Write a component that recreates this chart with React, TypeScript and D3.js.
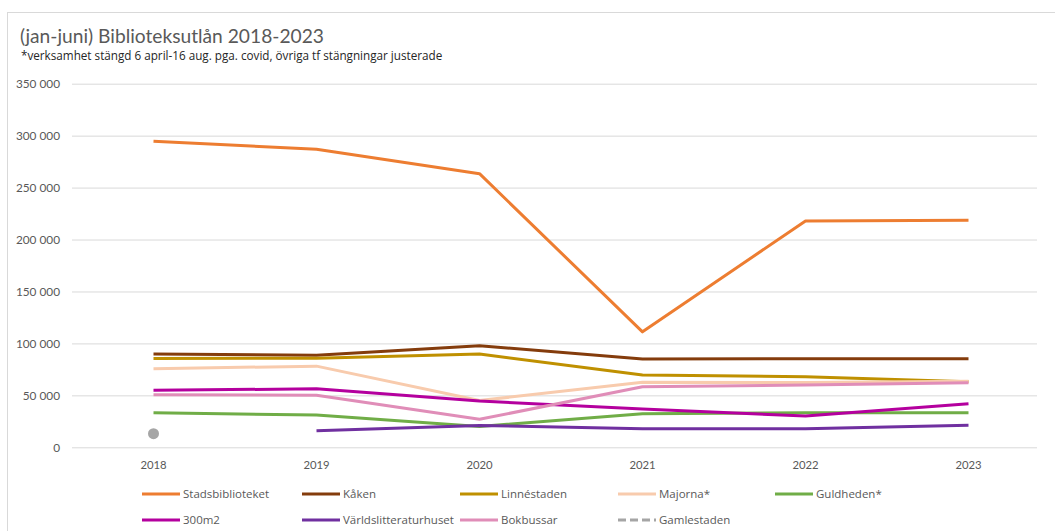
import React from "react";
import * as d3 from "d3";

const years = ["2018", "2019", "2020", "2021", "2022", "2023"];
const yTicks = [0, 50000, 100000, 150000, 200000, 250000, 300000, 350000];

const stadsbiblioteket = [295000, 287300, 263900, 111600, 218400, 219000];
const kaken = [90200, 89200, 98200, 85400, 85700, 85700];
const linnestaden = [86000, 86300, 90200, 70000, 68400, 63600];
const majorna = [76100, 78600, 45500, 63000, 62800, 64000];
const guldheden = [33700, 31500, 20500, 32800, 33800, 33700];
const m300 = [55300, 56800, 45000, 37300, 30600, 42400];
const varlds = [null, 16400, 21500, 18400, 18400, 21600];
const bokbussar = [51100, 50500, 27400, 58800, 60400, 62500];
const gamlestaden = [13600, null, null, null, null, null];

const seriesNames = [
  "Stadsbiblioteket", "Kåken", "Linnéstaden", "Majorna*", "Guldheden*",
  "300m2", "Världslitteraturhuset", "Bokbussar", "Gamlestaden",
];
const seriesValues = [stadsbiblioteket, kaken, linnestaden, majorna, guldheden, m300, varlds, bokbussar, gamlestaden];
const seriesColors = ["#ED7D31", "#843C0C", "#BF9000", "#F8CBAD", "#70AD47", "#B4009E", "#7030A0", "#E08DB8", "#A5A5A5"];

const FONT = "Lato, 'Open Sans', sans-serif";
const FONT2 = "'Open Sans', Lato, sans-serif";
const TXT = "#595959";

export default function App() {
  const W = 1055, H = 531;
  const x = d3.scaleBand<string>().domain(years).range([72, 1050]);
  const xc = (yr: string) => (x(yr) as number) + x.bandwidth() / 2;
  const y = d3.scaleLinear().domain([0, 350000]).range([447.8, 84.2]);
  const fmt = (v: number) => d3.format(",")(v).replace(/,/g, " ");

  const line = d3.line<number | null>()
    .defined((d) => d != null)
    .x((_, i) => xc(years[i]))
    .y((d) => y(d as number));

  const legendCols = [142, 302, 460, 618, 775];
  const legendRows = [494, 520];

  return (
    <div style={{ position: "absolute", left: 0, top: 0 }}>
      <svg width={W} height={H} style={{ display: "block", background: "#fff" }}>
        <rect x={7.5} y={12.5} width={1100} height={600} fill="#fff" stroke="#D9D9D9" strokeWidth={1} />
        <text x={20} y={43} fontFamily={FONT} fontSize={19.2} fill={TXT}>(jan-juni) Biblioteksutlån 2018-2023</text>
        <text x={21} y={60} fontFamily={FONT2} fontSize={11.7} fill="#262626">*verksamhet stängd 6 april-16 aug. pga. covid, övriga tf stängningar justerade</text>

        {yTicks.map((t) => (
          <g key={t}>
            <line x1={72} x2={1037} y1={y(t)} y2={y(t)} stroke="#D9D9D9" strokeWidth={1} />
            <text x={60} y={y(t)} dy="0.35em" textAnchor="end" fontFamily={FONT} fontSize={11.8} fill={TXT}>{fmt(t)}</text>
          </g>
        ))}
        {years.map((yr) => (
          <text key={yr} x={xc(yr)} y={465} dy="0.35em" textAnchor="middle" fontFamily={FONT} fontSize={11.3} fill={TXT}>{yr}</text>
        ))}

        {seriesValues.map((vals, i) => (
          <path key={i} d={line(vals) || ""} fill="none" stroke={seriesColors[i]} strokeWidth={3} strokeLinejoin="round" />
        ))}
        {gamlestaden.map((v, i) => v != null ? (
          <circle key={i} cx={xc(years[i])} cy={y(v)} r={5.5} fill={seriesColors[8]} />
        ) : null)}

        {seriesNames.map((name, i) => {
          const lx = legendCols[i % 5];
          const ly = legendRows[Math.floor(i / 5)];
          return (
            <line key={name} x1={lx} x2={lx + 38} y1={ly} y2={ly} stroke={seriesColors[i]} strokeWidth={3}
              strokeDasharray={name === "Gamlestaden" ? "8,4" : undefined} />
          );
        })}
        {seriesNames.map((name, i) => {
          const lx = legendCols[i % 5];
          const ly = legendRows[Math.floor(i / 5)];
          return (
            <text key={name} x={lx + 41} y={ly} dy="0.35em" fontFamily={FONT2} fontSize={11.5} fill={TXT}
              stroke="#fff" strokeWidth={4} paintOrder="stroke" strokeLinejoin="round">{name}</text>
          );
        })}
      </svg>
    </div>
  );
}
